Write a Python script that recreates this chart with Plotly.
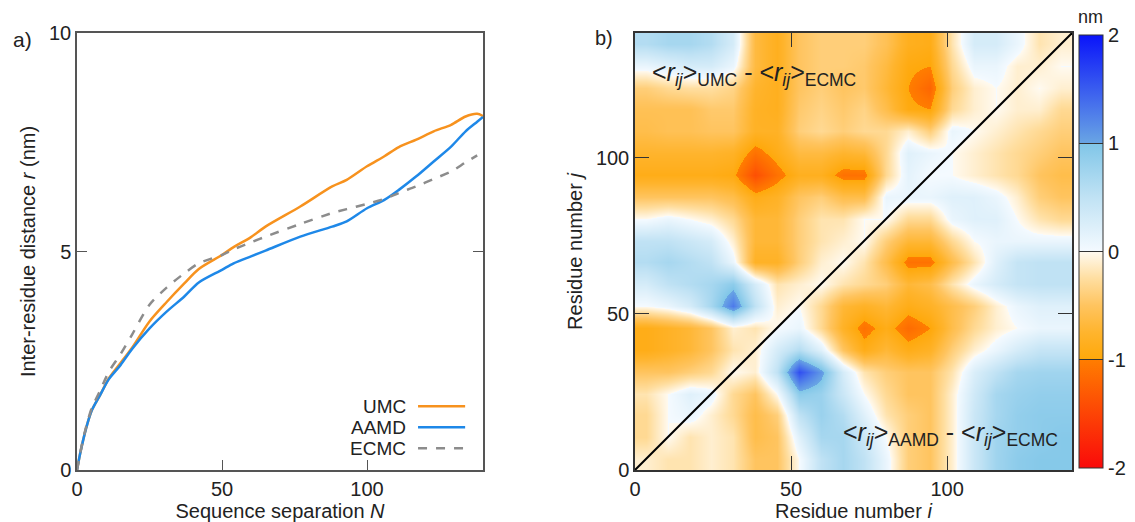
import plotly.graph_objects as go

# ---------------- panel a: mean inter-residue distance vs sequence separation
sep_N = [0, 1, 2, 3, 5, 8, 11, 15, 19, 25, 31, 37, 42, 50, 54, 60, 65, 77, 88, 93,
         100, 106, 111, 117, 123, 129, 134, 138, 140]
r_umc = [0, 0.35, 0.65, 0.92, 1.35, 1.72, 2.1, 2.45, 2.8, 3.4, 3.85, 4.27, 4.6, 4.92,
         5.1, 5.33, 5.57, 6.03, 6.49, 6.64, 6.95, 7.18, 7.39, 7.56, 7.75, 7.9, 8.09, 8.15, 8.1]
r_aamd = [0, 0.35, 0.65, 0.92, 1.35, 1.72, 2.08, 2.4, 2.77, 3.24, 3.63, 3.97, 4.29, 4.58,
          4.73, 4.89, 5.02, 5.34, 5.57, 5.69, 5.99, 6.18, 6.41, 6.72, 7.06, 7.4, 7.75, 7.97, 8.08]
sep_N_ecmc = [0, 1, 2, 3, 5, 8, 11, 15, 19, 25, 31, 37, 42, 50, 54, 60, 65, 77, 88, 93,
              100, 106, 111, 117, 123, 129, 134, 138]
r_ecmc = [0, 0.35, 0.68, 0.95, 1.4, 1.82, 2.25, 2.65, 3.1, 3.78, 4.18, 4.5, 4.73, 4.92,
          5.05, 5.21, 5.34, 5.63, 5.88, 5.97, 6.09, 6.2, 6.34, 6.49, 6.66, 6.83, 7.04, 7.2]

series_names = ["UMC", "AAMD", "ECMC"]
series_colors = ["#F7921E", "#1E88E8", "#8C8C8C"]
series_dash = ["solid", "solid", "dash"]

# ---------------- panel b: distance-difference map (nm)
# upper triangle (j > i): <r_ij>UMC - <r_ij>ECMC ; lower triangle (j < i): <r_ij>AAMD - <r_ij>ECMC
n_res = 140
res_centers = [3.5, 10.5, 17.5, 24.5, 31.5, 38.5, 45.5, 52.5, 59.5, 66.5,
               73.5, 80.5, 87.5, 94.5, 101.5, 108.5, 115.5, 122.5, 129.5, 136.5]
diff_map = [
    [-0.1, -0.2, -0.2, -0.1, -0.2, -0.5, -0.5, 0.0, 0.5, 0.7, 0.5, 0.1, -0.4, -0.5, -0.1, 0.4, 0.75, 0.9, 0.95, 0.95],
    [-0.3, 0.0, -0.2, -0.1, -0.2, -0.6, -0.5, 0.2, 0.7, 0.7, 0.4, 0.0, -0.4, -0.5, -0.1, 0.4, 0.75, 0.85, 0.9, 0.95],
    [-0.3, 0.0, 0.1, -0.1, -0.3, -0.6, -0.4, 0.5, 0.8, 0.6, 0.2, -0.2, -0.4, -0.5, -0.1, 0.4, 0.7, 0.85, 0.9, 0.9],
    [-0.2, 0.0, 0.2, 0.1, -0.3, -0.5, 0.0, 0.9, 0.8, 0.4, 0.0, -0.3, -0.5, -0.5, -0.1, 0.35, 0.7, 0.8, 0.85, 0.85],
    [-0.5, -0.5, -0.4, -0.3, 0.0, -0.1, 0.5, 1.6, 1.1, 0.3, -0.2, -0.4, -0.5, -0.5, -0.2, 0.25, 0.5, 0.7, 0.75, 0.75],
    [-0.9, -0.8, -0.7, -0.5, -0.2, -0.1, 0.3, 0.6, 0.2, -0.5, -0.9, -0.7, -0.9, -0.8, -0.4, -0.1, 0.1, 0.3, 0.45, 0.45],
    [-0.9, -0.8, -0.7, -0.5, -0.1, -0.2, 0.0, 0.1, -0.3, -0.8, -1.1, -0.9, -1.15, -1.0, -0.6, -0.3, -0.1, 0.0, 0.1, 0.1],
    [0.0, 0.1, 0.3, 0.7, 1.3, 0.5, -0.1, 0.0, -0.3, -0.7, -0.8, -0.7, -0.9, -0.8, -0.6, -0.4, -0.1, 0.1, 0.2, 0.2],
    [0.3, 0.5, 0.6, 0.7, 0.9, 0.3, -0.2, -0.1, 0.0, -0.2, -0.3, -0.4, -0.7, -0.6, -0.2, 0.1, 0.3, 0.45, 0.5, 0.5],
    [0.6, 0.7, 0.6, 0.5, 0.1, -0.8, -0.8, -0.4, -0.1, 0.0, -0.2, -0.6, -1.1, -1.1, -0.6, -0.2, 0.2, 0.45, 0.5, 0.5],
    [0.5, 0.5, 0.4, 0.3, -0.1, -0.7, -0.7, -0.4, -0.2, -0.1, 0.0, -0.4, -0.7, -0.7, -0.3, 0.0, 0.1, 0.1, 0.1, 0.1],
    [0.0, 0.1, 0.0, -0.1, -0.3, -0.7, -0.7, -0.4, -0.2, -0.2, 0.0, 0.0, -0.3, -0.3, 0.1, 0.2, 0.2, 0.0, -0.2, -0.3],
    [-0.5, -0.5, -0.5, -0.5, -0.6, -0.9, -0.8, -0.5, -0.4, -0.6, -0.6, 0.1, 0.1, 0.1, 0.2, 0.2, 0.1, -0.1, -0.4, -0.5],
    [-0.9, -0.9, -0.9, -0.9, -0.95, -1.4, -1.1, -0.85, -0.85, -1.1, -1.1, -0.3, 0.15, 0.0, 0.0, -0.1, -0.2, -0.3, -0.5, -0.6],
    [-0.75, -0.75, -0.75, -0.75, -0.8, -1.1, -0.9, -0.65, -0.65, -0.75, -0.7, -0.3, 0.2, 0.1, 0.0, -0.1, -0.2, -0.3, -0.4, -0.5],
    [-0.6, -0.55, -0.55, -0.5, -0.5, -0.8, -0.8, -0.4, -0.3, -0.4, -0.3, -0.3, -0.1, -0.4, 0.1, 0.0, -0.1, -0.2, -0.3, -0.4],
    [-0.55, -0.55, -0.55, -0.45, -0.45, -0.8, -0.85, -0.45, -0.35, -0.45, -0.35, -0.6, -0.95, -1.0, -0.3, -0.1, 0.0, -0.1, -0.1, -0.3],
    [-0.4, -0.3, -0.25, -0.25, -0.35, -0.75, -0.85, -0.5, -0.4, -0.5, -0.45, -0.7, -1.0, -1.2, -0.4, -0.1, 0.0, -0.1, 0.0, -0.1],
    [0.1, 0.2, 0.3, 0.3, 0.1, -0.65, -0.85, -0.5, -0.4, -0.4, -0.45, -0.65, -0.95, -1.0, -0.3, 0.1, 0.1, -0.1, -0.1, 0.0],
    [0.6, 0.7, 0.7, 0.6, 0.3, -0.65, -0.85, -0.5, -0.4, -0.4, -0.4, -0.55, -0.85, -0.9, -0.2, 0.3, 0.3, 0.1, -0.2, -0.1],
]
cbar_ticks = [-2, -1, 0, 1, 2]
cbar_text = ["-2", "-1", "0", "1", "2"]

# diverging scale with hard steps at -1, 0 and +1 nm
diff_scale = [
    [0.0, "rgb(250,10,10)"],
    [0.25, "rgb(255,125,0)"],
    [0.25, "rgb(255,168,10)"],
    [0.3125, "rgb(255,180,45)"],
    [0.375, "rgb(255,196,95)"],
    [0.4375, "rgb(255,222,160)"],
    [0.5, "rgb(255,250,240)"],
    [0.5, "rgb(244,250,255)"],
    [0.625, "rgb(192,226,244)"],
    [0.75, "rgb(128,198,232)"],
    [0.75, "rgb(105,165,228)"],
    [1.0, "rgb(10,20,250)"],
]

FONT = "Arial, Liberation Sans, sans-serif"
W, H = 1135, 522

fig = go.Figure()

for name, xs, ys, col, dash in zip(series_names,
                                   [sep_N, sep_N, sep_N_ecmc],
                                   [r_umc, r_aamd, r_ecmc],
                                   series_colors, series_dash):
    fig.add_trace(go.Scatter(x=xs, y=ys, mode="lines", name=name,
                             line=dict(color=col, width=2.5, dash=dash, shape="spline", smoothing=0.8),
                             showlegend=False, xaxis="x", yaxis="y"))

fig.add_trace(go.Heatmap(
    x=res_centers, y=res_centers, z=diff_map, zmin=-2, zmax=2,
    colorscale=diff_scale, zsmooth="best", xaxis="x2", yaxis="y2",
    colorbar=dict(x=1079 / W, xanchor="left", xpad=0, y=(H - 251.5) / H, yanchor="middle",
                  len=433 / H, lenmode="fraction", ypad=0, thickness=24,
                  outlinewidth=1, outlinecolor="#333",
                  tickvals=cbar_ticks, ticktext=cbar_text, ticks="inside", ticklen=24,
                  tickcolor="#333", tickwidth=1, tickfont=dict(size=20, family=FONT, color="#222")),
))

# i = j diagonal separating the two difference maps
fig.add_trace(go.Scatter(x=[0, n_res], y=[0, n_res], mode="lines",
                         line=dict(color="black", width=2), showlegend=False,
                         xaxis="x2", yaxis="y2"))

tickfont = dict(size=20, family=FONT, color="#222")
titlefont = dict(size=20, family=FONT, color="#222")
dom_y = [(H - 470) / H, (H - 33) / H]

fig.update_layout(
    width=W, height=H, margin=dict(l=0, r=0, t=0, b=0, autoexpand=False),
    paper_bgcolor="white", plot_bgcolor="white",
    font=dict(family=FONT, color="#222"),
    xaxis=dict(domain=[77 / W, 483 / W], anchor="y", range=[0, 140], tickvals=[0, 50, 100],
               ticks="inside", ticklen=10, tickcolor="#555", showline=True, linecolor="#555",
               linewidth=1.5, mirror=True, showgrid=False, zeroline=False, tickfont=tickfont,
               title=dict(text="Sequence separation <i>N</i>", font=titlefont, standoff=2)),
    yaxis=dict(domain=dom_y, anchor="x", range=[0, 10], tickvals=[0, 5, 10],
               ticks="inside", ticklen=10, tickcolor="#555", showline=True, linecolor="#555",
               linewidth=1.5, mirror="ticks", showgrid=False, zeroline=False, tickfont=tickfont,
               title=dict(text="Inter-residue distance <i>r</i> (nm)", font=titlefont, standoff=8)),
    xaxis2=dict(domain=[635 / W, 1072 / W], anchor="y2", range=[0, n_res], tickvals=[0, 50, 100],
                ticks="inside", ticklen=14, tickcolor="#333", showline=True, linecolor="#333",
                linewidth=1.5, mirror="ticks", showgrid=False, zeroline=False, tickfont=tickfont,
                title=dict(text="Residue number <i>i</i>", font=titlefont, standoff=2)),
    yaxis2=dict(domain=dom_y, anchor="x2", range=[0, n_res], tickvals=[0, 50, 100],
                ticks="inside", ticklen=14, tickcolor="#333", showline=True, linecolor="#333",
                linewidth=1.5, mirror="ticks", showgrid=False, zeroline=False, tickfont=tickfont,
                title=dict(text="Residue number <i>j</i>", font=titlefont, standoff=8)),
)

# hand-built legend for panel a: label on the left, line sample on the right
leg_y = [0.146, 0.098, 0.050]
for name, col, dash, yy in zip(series_names, series_colors, series_dash, leg_y):
    fig.add_annotation(text=name, x=0.815, y=yy, xref="x domain", yref="y domain",
                       xanchor="right", yanchor="middle", showarrow=False,
                       font=dict(size=19, family=FONT, color="#222"))
    fig.add_shape(type="line", x0=0.84, x1=0.956, y0=yy, y1=yy, xref="x domain", yref="y domain",
                  line=dict(color=col, width=2.5, dash=dash))

rij = "&lt;<i>r</i><sub><i>ij</i></sub>&gt;"
fig.add_annotation(text=f"{rij}<sub>UMC</sub> - {rij}<sub>ECMC</sub>", x=4.8, y=127,
                   xref="x2", yref="y2", xanchor="left", yanchor="middle", showarrow=False,
                   font=dict(size=25, family=FONT, color="#222"))
fig.add_annotation(text=f"{rij}<sub>AAMD</sub> - {rij}<sub>ECMC</sub>", x=136, y=11.5,
                   xref="x2", yref="y2", xanchor="right", yanchor="middle", showarrow=False,
                   font=dict(size=25, family=FONT, color="#222"))

fig.add_annotation(text="nm", x=1090 / W, y=(H - 17) / H, xref="paper", yref="paper",
                   xanchor="center", yanchor="middle", showarrow=False,
                   font=dict(size=18, family=FONT, color="#222"))
fig.add_annotation(text="a)", x=22 / W, y=(H - 40) / H, xref="paper", yref="paper",
                   xanchor="center", yanchor="middle", showarrow=False,
                   font=dict(size=21, family=FONT, color="#222"))
fig.add_annotation(text="b)", x=604 / W, y=(H - 38) / H, xref="paper", yref="paper",
                   xanchor="center", yanchor="middle", showarrow=False,
                   font=dict(size=20, family=FONT, color="#222"))

fig.write_html("out.html")
